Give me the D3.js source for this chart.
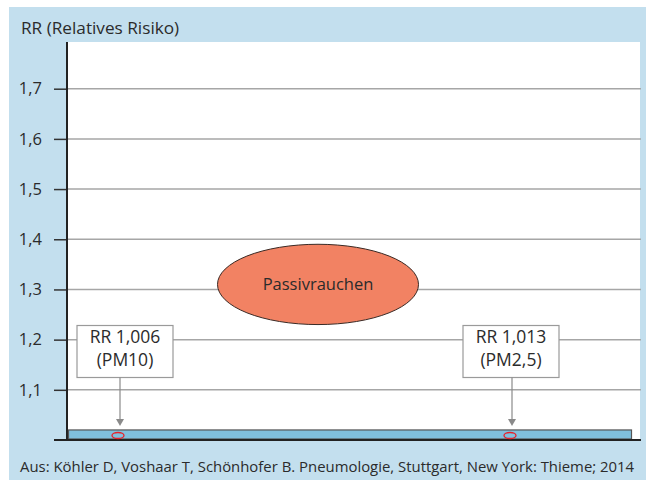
<!DOCTYPE html>
<html><head><meta charset="utf-8">
<script src="https://cdn.jsdelivr.net/npm/d3@7"></script>
<style>body{margin:0;background:#fff}svg{display:block}text{font-family:"Open Sans",sans-serif;fill:#2b2b2b}</style>
</head><body><svg id="c" width="646" height="480"></svg>
<script>
const yTicks = [1.1, 1.2, 1.3, 1.4, 1.5, 1.6, 1.7];
const yTickLabels = ["1,1", "1,2", "1,3", "1,4", "1,5", "1,6", "1,7"];
const categories = ["PM10", "Passivrauchen", "PM2,5"];
const markerCats = ["PM10", "PM2,5"];
const markerLabels = ["RR 1,006", "RR 1,013"];
const markerSubs = ["(PM10)", "(PM2,5)"];
const markerValues = [1.006, 1.013];
const passivLow = 1.23, passivHigh = 1.39;
const baseBand = [1.0, 1.02];
const yTitle = "RR (Relatives Risiko)";
const caption = "Aus: Köhler D, Voshaar T, Schönhofer B. Pneumologie, Stuttgart, New York: Thieme; 2014";

const svg = d3.select("#c");
const L = 67, R = 640, T = 42, B = 440;
const y = d3.scaleLinear().domain([1.0, 1.7]).range([B, 88.7]);
const x = d3.scalePoint().domain(categories).range([119, 511]);

svg.append("rect").attr("x", 9).attr("y", 7).attr("width", 637).attr("height", 473).attr("fill", "#c3dfee");
svg.append("rect").attr("x", L).attr("y", T).attr("width", R - L).attr("height", B - T).attr("fill", "#fff");

// grid
svg.append("g").selectAll("line").data(yTicks).join("line")
  .attr("x1", L).attr("x2", 641).attr("y1", d => y(d)).attr("y2", d => y(d))
  .attr("stroke", "#a6a6a6").attr("stroke-width", 1.5);

// axis
const ax = d3.axisLeft(y).tickValues(yTicks).tickFormat((d, i) => yTickLabels[i]).tickSize(13).tickPadding(12);
const g = svg.append("g").attr("transform", `translate(${L},0)`).call(ax);
g.select(".domain").remove();
g.selectAll(".tick line").attr("stroke", "#333").attr("stroke-width", 1.5);
g.selectAll(".tick text").attr("font-size", 16.5).attr("font-family", "'Open Sans',sans-serif").attr("fill", "#2b2b2b");
svg.append("line").attr("x1", L).attr("x2", L).attr("y1", T).attr("y2", B).attr("stroke", "#222").attr("stroke-width", 2);

// base band
svg.append("rect").attr("x", 68.5).attr("y", y(baseBand[1]))
  .attr("width", 631.5 - 68.5).attr("height", y(baseBand[0]) - y(baseBand[1]) - 1)
  .attr("fill", "#80c0de").attr("stroke", "#555").attr("stroke-width", 1.2);
svg.append("line").attr("x1", 54).attr("x2", 641).attr("y1", B).attr("y2", B).attr("stroke", "#222").attr("stroke-width", 2);

// markers
const mid = (baseBand[0] + baseBand[1]) / 2;
svg.append("g").selectAll("ellipse").data(markerCats).join("ellipse")
  .attr("cx", d => x(d) - 1).attr("cy", y(mid) + 0.5).attr("rx", 6).attr("ry", 3)
  .attr("fill", "none").attr("stroke", "#e8202a").attr("stroke-width", 1.3);

// passivrauchen
const pc = x("Passivrauchen") + 3;
svg.append("ellipse").attr("cx", pc).attr("cy", (y(passivLow) + y(passivHigh)) / 2)
  .attr("rx", 100.5).attr("ry", (y(passivLow) - y(passivHigh)) / 2)
  .attr("fill", "#f28263").attr("stroke", "#3a2a25").attr("stroke-width", 1);
svg.append("text").attr("x", pc).attr("y", (y(passivLow) + y(passivHigh)) / 2 + 6)
  .attr("text-anchor", "middle").attr("font-size", 16.5).text("Passivrauchen");

// label boxes + arrows
markerCats.forEach((c, i) => {
  const cx = x(c) + (i === 0 ? 6 : 0);
  const top = 325.5, h = 52, w = 96;
  svg.append("rect").attr("x", cx - w / 2).attr("y", top).attr("width", w).attr("height", h)
    .attr("fill", "#fff").attr("stroke", "#9a9a9a").attr("stroke-width", 1.2);
  svg.append("text").attr("x", cx).attr("y", top + 17.5).attr("text-anchor", "middle").attr("font-size", 17.5).text(markerLabels[i]);
  svg.append("text").attr("x", cx).attr("y", top + 40.5).attr("text-anchor", "middle").attr("font-size", 17.5).text(markerSubs[i]);
  const ax0 = x(c) + 1;
  svg.append("line").attr("x1", ax0).attr("x2", ax0).attr("y1", top + h).attr("y2", 420).attr("stroke", "#8a8a8a").attr("stroke-width", 1.2);
  svg.append("path").attr("d", `M${ax0 - 4},419 L${ax0 + 4},419 L${ax0},426 Z`).attr("fill", "#8a8a8a");
});

svg.append("text").attr("x", 21).attr("y", 34).attr("font-size", 17.2).text(yTitle);
svg.append("text").attr("x", 20).attr("y", 472).attr("font-size", 14.9).text(caption);
</script></body></html>
